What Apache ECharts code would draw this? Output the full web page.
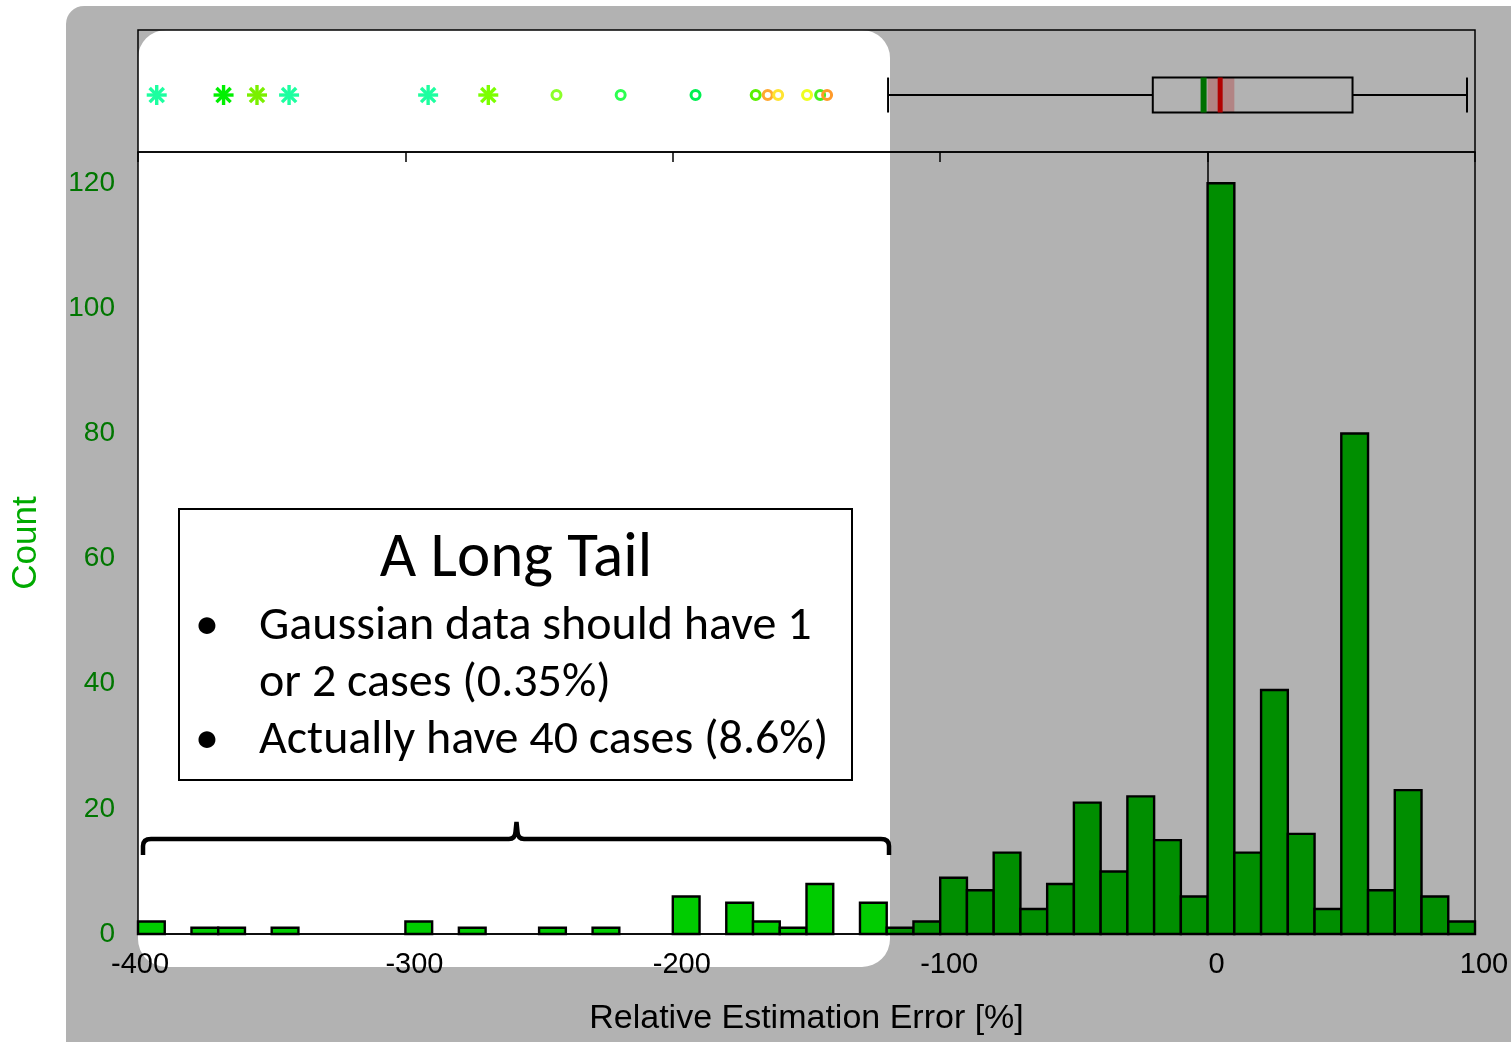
<!DOCTYPE html>
<html>
<head>
<meta charset="utf-8">
<title>Relative Estimation Error</title>
<script src="https://cdn.jsdelivr.net/npm/echarts@6/dist/echarts.min.js"></script>
<style>
  html, body { margin: 0; padding: 0; background: #ffffff; }
  #chart { width: 1511px; height: 1042px; }
</style>
</head>
<body>
<div id="chart"></div>
<script>
// ---- Histogram: lower edge of each 10 % bin and its count ----
const binStart = [
  -400, -390, -380, -370, -360, -350, -340, -330, -320, -310,
  -300, -290, -280, -270, -260, -250, -240, -230, -220, -210,
  -200, -190, -180, -170, -160, -150, -140, -130, -120, -110,
  -100,  -90,  -80,  -70,  -60,  -50,  -40,  -30,  -20,  -10,
     0,   10,   20,   30,   40,   50,   60,   70,   80,   90
];
const binWidth = 10;
const counts = [
  2, 0, 1, 1, 0, 1, 0, 0, 0, 0,
  2, 0, 1, 0, 0, 1, 0, 1, 0, 0,
  6, 0, 5, 2, 1, 8, 0, 5, 1, 2,
  9, 7, 13, 4, 8, 21, 10, 22, 15, 6,
  120, 13, 39, 16, 4, 80, 7, 23, 6, 2
];

// ---- Box plot summary ----
const whiskerLow = -119.5;
const quartile1 = -20.5;
const median = -1.5;
const quartile3 = 54.2;
const whiskerHigh = 97;
const mean = 4.7;
const meanBand = [0, 10];

// ---- Outliers (far = asterisk, near = circle) ----
const outlierValue = [-393, -368, -355.5, -343.5, -291.5, -269,
                      -243.5, -219.5, -191.5, -169, -164.5, -160.6, -149.8, -144.9, -142.3];
const outlierKind  = ['far', 'far', 'far', 'far', 'far', 'far',
                      'near', 'near', 'near', 'near', 'near', 'near', 'near', 'near', 'near'];
const outlierColor = ['#1dffa0', '#00f000', '#7af000', '#1dffa0', '#1dffa0', '#7cff00',
                      '#8cff2a', '#2cff50', '#00f050', '#5af000', '#ffa830', '#ffe433', '#eeff20', '#46ef1e', '#ff9a2a'];

// ---- Axis ticks ----
const xMin = -400, xMax = 100, xStep = 100;
const yMin = 0, yMax = 125, yStep = 20;

const FONT = '"Liberation Sans", Arial, Helvetica, sans-serif';
const NOTE_FONT = 'Carlito, Calibri, "Open Sans", sans-serif';
const ROW_Y = 0.467;   // vertical position of the box plot row in the top panel

const chart = echarts.init(document.getElementById('chart'), null, { renderer: 'canvas' });

const histData = binStart
  .map((s, i) => [s, s + binWidth, counts[i]])
  .filter(d => d[2] > 0);

// dimming layer with a rounded window over the tail, and the brace below the note
const DIM_PATH =
  'M 84 6 L 1511 6 L 1511 1042 L 66 1042 L 66 24 A 18 18 0 0 1 84 6 Z ' +
  'M 166 30 A 28 28 0 0 0 138 58 L 138 939 A 28 28 0 0 0 166 967 ' +
  'L 862 967 A 28 28 0 0 0 890 939 L 890 58 A 28 28 0 0 0 862 30 Z';
const BRACE_PATH =
  'M 143 855 L 143 846 Q 143 839 151 839 L 509 839 Q 515 839 515.5 832 L 516.5 822 ' +
  'L 517.5 832 Q 518 839 524 839 L 881 839 Q 889 839 889 846 L 889 855';

const option = {
  backgroundColor: '#ffffff',
  animation: false,
  grid: [
    { left: 138, top: 30, width: 1337, height: 122, show: true, borderColor: '#000', borderWidth: 1.5,
      backgroundColor: 'transparent', containLabel: false, outerBoundsMode: 'none' },
    { left: 138, top: 152, width: 1337, height: 782, show: true, borderColor: '#000', borderWidth: 1.5,
      backgroundColor: 'transparent', containLabel: false, outerBoundsMode: 'none' }
  ],
  xAxis: [
    { gridIndex: 0, type: 'value', min: xMin, max: xMax, show: false },
    {
      gridIndex: 1, type: 'value', position: 'bottom', min: xMin, max: xMax, interval: xStep,
      axisLine: { show: true, lineStyle: { color: '#000', width: 1.5 } },
      axisTick: { show: false },
      splitLine: { show: false },
      axisLabel: {
        color: '#000', fontSize: 29, fontFamily: FONT, margin: 16,
        formatter: v => (v === xMin ? '{edge|' + v + '}' : '{tick|' + v + '}'),
        rich: {
          edge: { color: '#000', fontSize: 29, fontFamily: FONT, padding: [0, 0, 0, 4] },
          tick: { color: '#000', fontSize: 29, fontFamily: FONT, padding: [0, 0, 0, 18] }
        }
      },
      name: 'Relative Estimation Error [%]', nameLocation: 'middle', nameGap: 68,
      nameMoveOverlap: false,
      nameTextStyle: { color: '#000', fontSize: 34, fontFamily: FONT }
    },
    {
      gridIndex: 1, type: 'value', position: 'top', min: xMin, max: xMax, interval: xStep,
      axisLine: { show: false },
      axisTick: { show: true, inside: true, length: 10, lineStyle: { color: '#000', width: 1.5 } },
      axisLabel: { show: false },
      splitLine: { show: false }
    }
  ],
  yAxis: [
    { gridIndex: 0, type: 'value', min: 0, max: 1, show: false },
    {
      gridIndex: 1, type: 'value', min: yMin, max: yMax, interval: yStep,
      axisLine: { show: true, lineStyle: { color: '#000', width: 1.5 } },
      axisTick: { show: true, inside: true, length: 12, lineStyle: { color: '#000', width: 1.5 } },
      splitLine: { show: false },
      axisLabel: { color: '#00aa00', fontSize: 28, fontFamily: FONT, margin: 23, showMaxLabel: false },
      name: 'Count', nameLocation: 'middle', nameGap: 94, nameRotate: 90,
      nameMoveOverlap: false,
      nameTextStyle: { color: '#00aa00', fontSize: 35, fontFamily: FONT }
    }
  ],
  series: [
    {
      // histogram bars
      type: 'custom',
      xAxisIndex: 1, yAxisIndex: 1,
      data: histData,
      z: 3,
      renderItem: function (params, api) {
        const p0 = api.coord([api.value(0), 0]);
        const p1 = api.coord([api.value(1), api.value(2)]);
        return {
          type: 'rect',
          shape: { x: p0[0], y: p1[1], width: p1[0] - p0[0], height: p0[1] - p1[1] },
          style: { fill: '#00cc00', stroke: '#000', lineWidth: 2.4 }
        };
      }
    },
    {
      // box plot with median, mean and its band
      type: 'custom',
      xAxisIndex: 0, yAxisIndex: 0,
      data: [[whiskerLow, quartile1, median, quartile3, whiskerHigh, mean, meanBand[0], meanBand[1]]],
      z: 3,
      renderItem: function (params, api) {
        const cy = api.coord([0, ROW_Y])[1];
        const x = i => api.coord([api.value(i), ROW_Y])[0];
        const h = 17.5;
        const black = { stroke: '#000', lineWidth: 2 };
        return {
          type: 'group',
          children: [
            { type: 'rect', shape: { x: x(6), y: cy - h, width: x(7) - x(6), height: 2 * h },
              style: { fill: 'rgba(255,0,0,0.26)' } },
            { type: 'line', shape: { x1: x(0), y1: cy, x2: x(1), y2: cy }, style: black },
            { type: 'line', shape: { x1: x(3), y1: cy, x2: x(4), y2: cy }, style: black },
            { type: 'line', shape: { x1: x(0), y1: cy - h, x2: x(0), y2: cy + h }, style: black },
            { type: 'line', shape: { x1: x(4), y1: cy - h, x2: x(4), y2: cy + h }, style: black },
            { type: 'rect', shape: { x: x(1), y: cy - h, width: x(3) - x(1), height: 2 * h },
              style: { fill: 'none', stroke: '#000', lineWidth: 2 } },
            { type: 'line', shape: { x1: x(2), y1: cy - h, x2: x(2), y2: cy + h },
              style: { stroke: '#00a000', lineWidth: 6 } },
            { type: 'line', shape: { x1: x(5), y1: cy - h, x2: x(5), y2: cy + h },
              style: { stroke: '#ff0000', lineWidth: 5 } }
          ]
        };
      }
    },
    {
      // outliers
      type: 'custom',
      xAxisIndex: 0, yAxisIndex: 0,
      data: outlierValue.map(v => [v, ROW_Y]),
      z: 4,
      renderItem: function (params, api) {
        const i = params.dataIndex;
        const p = api.coord([api.value(0), api.value(1)]);
        const color = outlierColor[i];
        if (outlierKind[i] === 'far') {
          const r = 10, d = r * Math.SQRT1_2;
          const st = { stroke: color, lineWidth: 3.4 };
          return {
            type: 'group',
            children: [
              { type: 'line', shape: { x1: p[0] - r, y1: p[1], x2: p[0] + r, y2: p[1] }, style: st },
              { type: 'line', shape: { x1: p[0], y1: p[1] - r, x2: p[0], y2: p[1] + r }, style: st },
              { type: 'line', shape: { x1: p[0] - d, y1: p[1] - d, x2: p[0] + d, y2: p[1] + d }, style: st },
              { type: 'line', shape: { x1: p[0] - d, y1: p[1] + d, x2: p[0] + d, y2: p[1] - d }, style: st }
            ]
          };
        }
        return {
          type: 'circle',
          shape: { cx: p[0], cy: p[1], r: 4.5 },
          style: { fill: 'none', stroke: color, lineWidth: 3 }
        };
      }
    },
    {
      // dimming layer and brace
      type: 'custom',
      coordinateSystem: 'none',
      silent: true,
      z: 100,
      data: [[0]],
      renderItem: function () {
        return {
          type: 'group',
          children: [
            { type: 'path', shape: { pathData: DIM_PATH }, style: { fill: 'rgba(0,0,0,0.3)' } },
            { type: 'path', shape: { pathData: BRACE_PATH },
              style: { fill: 'none', stroke: '#000', lineWidth: 4.5 } }
          ]
        };
      }
    }
  ],
  graphic: [
    {
      type: 'group',
      z: 110,
      children: [
        { type: 'rect', shape: { x: 179, y: 509, width: 673, height: 271 },
          style: { fill: '#ffffff', stroke: '#000', lineWidth: 2 }, z: 110 },
        { type: 'text', x: 516, y: 560, z: 111,
          style: { text: 'A Long Tail', fill: '#000', font: '63px ' + NOTE_FONT, align: 'center', verticalAlign: 'middle' } },
        { type: 'text', x: 207, y: 627, z: 111,
          style: { text: '\u2022', fill: '#000', font: '48px ' + NOTE_FONT, align: 'center', verticalAlign: 'middle' } },
        { type: 'text', x: 259, y: 627, z: 111,
          style: { text: 'Gaussian data should have 1', fill: '#000', font: '48px ' + NOTE_FONT, align: 'left', verticalAlign: 'middle' } },
        { type: 'text', x: 259, y: 684, z: 111,
          style: { text: 'or 2 cases (0.35%)', fill: '#000', font: '48px ' + NOTE_FONT, align: 'left', verticalAlign: 'middle' } },
        { type: 'text', x: 207, y: 741, z: 111,
          style: { text: '\u2022', fill: '#000', font: '48px ' + NOTE_FONT, align: 'center', verticalAlign: 'middle' } },
        { type: 'text', x: 259, y: 741, z: 111,
          style: { text: 'Actually have 40 cases (8.6%)', fill: '#000', font: '48px ' + NOTE_FONT, align: 'left', verticalAlign: 'middle' } }
      ]
    }
  ]
};

chart.setOption(option);
</script>
</body>
</html>
